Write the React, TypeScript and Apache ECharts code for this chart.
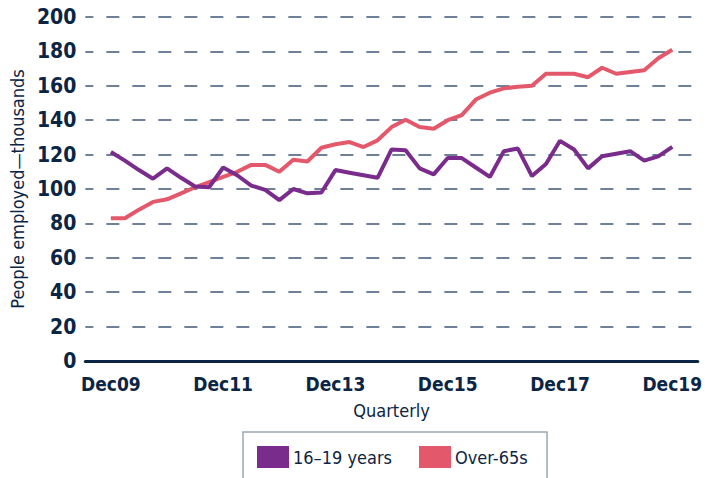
import React, { useEffect, useRef } from "react";
import * as echarts from "echarts";

const seriesNames = ["16–19 years", "Over-65s"];
const teens = [
  121.5, 116.5, 111, 106, 112, 106.5, 101.5, 101, 112.5, 108, 102, 99.5, 93.5, 100, 97.5, 98,
  111, 109.5, 108, 106.5, 123, 122.5, 112, 108.5, 118, 118, 112.5, 107, 122, 123.5, 107.5,
  114.5, 128, 123, 112, 119, 120.5, 122, 116.5, 119, 124.5,
];
const over65 = [
  83, 83, 88, 92.5, 94, 97.5, 101, 104, 107, 110, 114, 114, 110, 117, 116, 124, 126, 127.3,
  124.4, 128.3, 136, 140.3, 136, 135, 140, 143, 152, 156, 158.5, 159.5, 160, 167, 167, 167,
  165, 170.5, 167, 168, 169, 176, 181,
];
const xTickIndex = [0, 8, 16, 24, 32, 40];
const xTickLabels = ["Dec09", "Dec11", "Dec13", "Dec15", "Dec17", "Dec19"];

const NAVY = "#0c2544";
const PURPLE = "#7a2c8c";
const RED = "#e4586c";
const FONT = "'DejaVu Sans Condensed', 'Liberation Sans Narrow', sans-serif";

export default function App() {
  const ref = useRef<HTMLDivElement>(null);
  useEffect(() => {
    const chart = echarts.init(ref.current!, null, { renderer: "svg" });
    chart.setOption({
      animation: false,
      textStyle: { fontFamily: FONT },
      grid: { left: 82, right: 0, top: 17, bottom: 117 },
      xAxis: {
        type: "value",
        min: -1.82,
        max: 41.82,
        name: "Quarterly",
        nameLocation: "middle",
        nameGap: 40,
        nameTextStyle: { color: NAVY, fontSize: 18, fontFamily: FONT },
        axisLine: { show: true, onZero: false, lineStyle: { color: NAVY, width: 3 } },
        axisTick: { show: false },
        splitLine: { show: false },
        axisLabel: {
          customValues: xTickIndex,
          formatter: (v: number) => xTickLabels[xTickIndex.indexOf(Math.round(v))] ?? "",
          color: NAVY,
          fontSize: 19,
          fontWeight: "bold",
          fontFamily: FONT,
          margin: 13,
        },
      },
      yAxis: {
        type: "value",
        min: 0,
        max: 200,
        interval: 20,
        name: "People employed—thousands",
        nameLocation: "middle",
        nameGap: 55,
        nameTextStyle: { color: NAVY, fontSize: 18, fontFamily: FONT },
        axisLine: { show: false },
        axisTick: { show: false },
        axisLabel: { color: NAVY, fontSize: 21, fontWeight: "bold", fontFamily: FONT, margin: 9 },
        splitLine: {
          show: true,
          lineStyle: { color: "#6f8199", width: 2, type: [13, 13], dashOffset: 5 },
        },
      },
      legend: {
        left: 257,
        top: 446,
        padding: 0,
        itemWidth: 32,
        itemHeight: 22,
        itemGap: 27,
        icon: "rect",
        textStyle: { color: NAVY, fontSize: 18, fontFamily: FONT, padding: [0, 0, 0, -1] },
        data: seriesNames,
      },
      graphic: [
        {
          type: "rect",
          shape: { x: 243, y: 432, width: 304, height: 60 },
          style: { fill: "none", stroke: "#9aa6b6", lineWidth: 1.5 },
          silent: true,
        },
      ],
      series: [
        {
          name: seriesNames[0],
          type: "line",
          data: teens.map((v, i) => [i, v]),
          showSymbol: false,
          lineStyle: { color: PURPLE, width: 4 },
          itemStyle: { color: PURPLE },
          z: 3,
        },
        {
          name: seriesNames[1],
          type: "line",
          data: over65.map((v, i) => [i, v]),
          showSymbol: false,
          lineStyle: { color: RED, width: 4 },
          itemStyle: { color: RED },
          z: 2,
        },
      ],
    });
    return () => chart.dispose();
  }, []);
  return (
    <div
      ref={ref}
      style={{ position: "fixed", left: 0, top: 0, width: 705, height: 478, background: "#fff" }}
    />
  );
}
